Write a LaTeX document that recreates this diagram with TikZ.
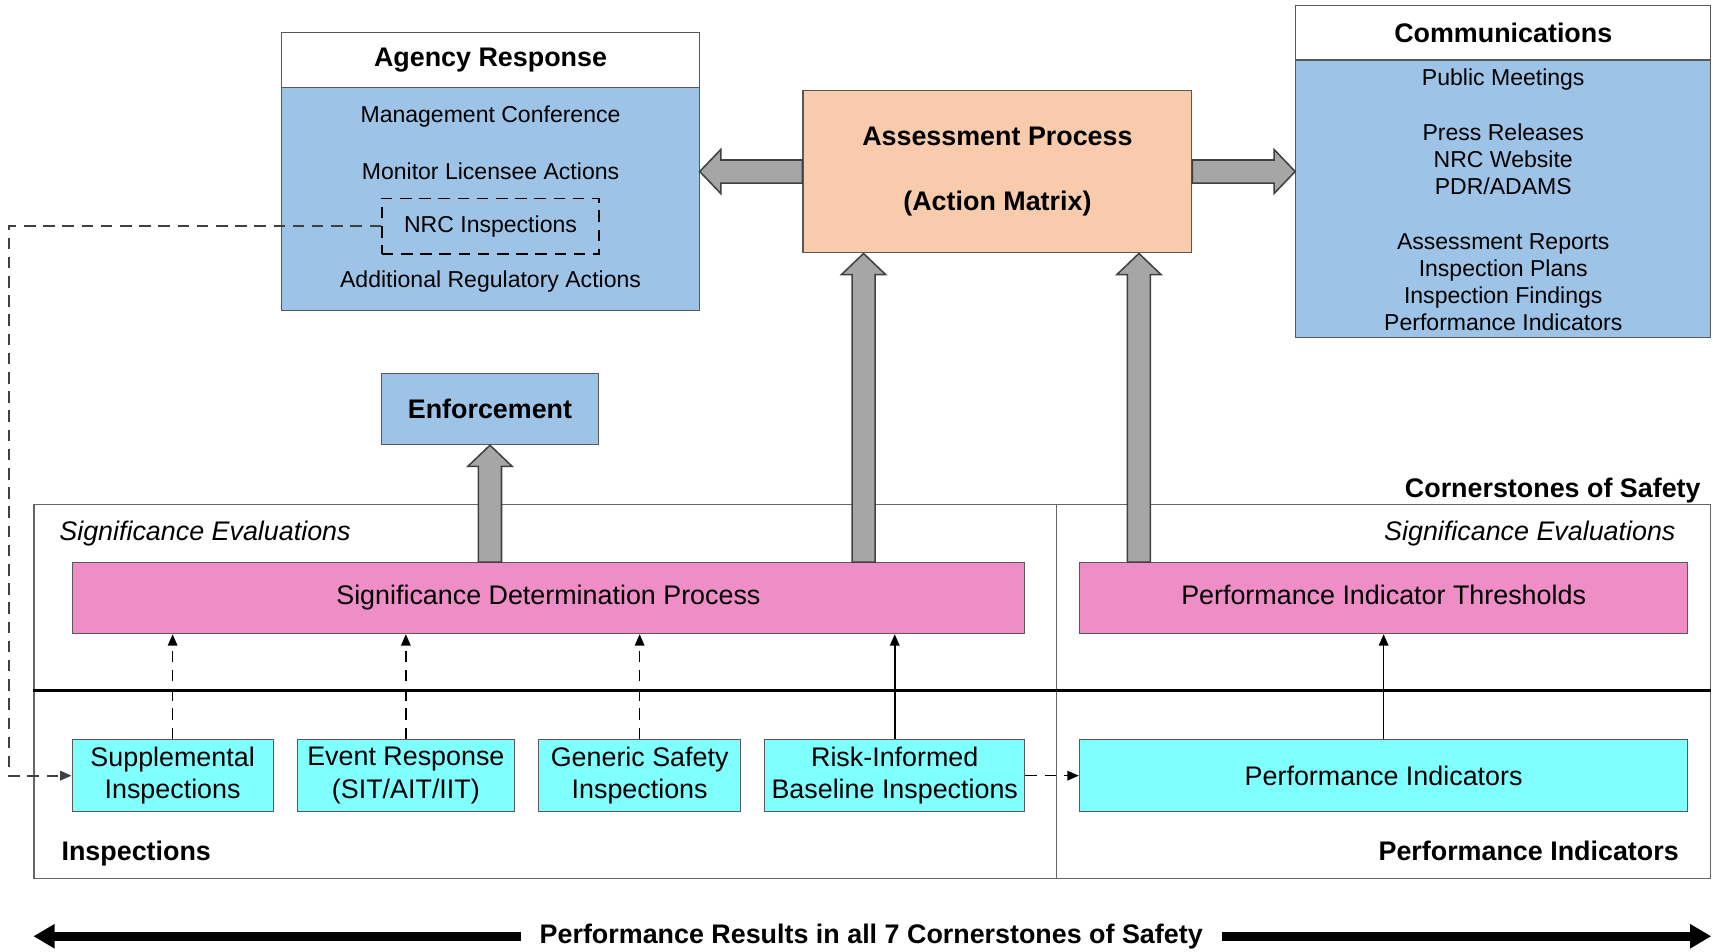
\documentclass[tikz,border=0pt]{standalone}
\usepackage{fontspec}
\setmainfont{Liberation Sans}
\usepackage{tikz}
\usetikzlibrary{arrows.meta,calc,positioning}

\definecolor{boxblue}{HTML}{9DC3E6}
\definecolor{peach}{HTML}{F8CBAD}
\definecolor{sdppink}{HTML}{EF8DC6}
\definecolor{aqua}{HTML}{80FFFF}
\definecolor{fatgray}{HTML}{A6A6A6}

% wide grey arrow between two points
\newcommand{\fatarrow}[2]{%
  \coordinate (fa) at ($(#2)!11pt!(#1)$);
  \path[draw=black!75, fill=fatgray, line width=0.8pt] ($(#1)!6pt!90:(#2)$) -- ($(fa)!6pt!-90:(#1)$) -- ($(fa)!11.5pt!-90:(#1)$) -- (#2) -- ($(fa)!11.5pt!90:(#1)$) -- ($(fa)!6pt!90:(#1)$) -- ($(#1)!6pt!-90:(#2)$) -- cycle;}

\begin{document}
\begin{tikzpicture}[x=0.02cm, y=-0.02cm]
	\tikzstyle{every node} = [font=\fontsize{12}{14.2}\selectfont]
	\tikzstyle{box} = [draw=black!65, line width=0.6pt, inner sep=0pt, align=center]
	\tikzstyle{title} = [font=\fontsize{14}{17}\selectfont\bfseries]
	\tikzstyle{big} = [font=\fontsize{14}{17}\selectfont]
	\tikzstyle{link} = [-{Triangle[length=6pt,width=5pt]}, line width=0.8pt]
	\tikzstyle{dashedlink} = [dash pattern=on 6pt off 4pt]

\useasboundingbox (0,0) rectangle (1568,871);

% top row
\node[box, fill=boxblue, minimum width=7.64cm, minimum height=5.08cm] (agency) at (449,157) {};
\node[box, fill=white, minimum width=7.64cm, minimum height=1cm, title] (agencyhd) at (449,55) {Agency Response};
\node (mgmt) at (449,107) {Management Conference};
\node (monitor) at (449,157) {Monitor Licensee Actions};
\node[draw=black, line width=0.8pt, dashedlink, minimum width=3.98cm, minimum height=1.02cm] (nrc) at (449,207) {NRC Inspections};
\node (addl) at (449,258) {Additional Regulatory Actions};

\node[box, fill=peach, minimum width=7.12cm, minimum height=2.98cm, font=\fontsize{14}{33.6}\selectfont\bfseries] (assess) at (913,157) {Assessment Process\\(Action Matrix)};

\node[box, fill=boxblue, minimum width=7.6cm, minimum height=6.08cm] (comm) at (1376,157) {};
\node[box, fill=white, minimum width=7.6cm, minimum height=1cm, title] (commhd) at (1376,30) {Communications};
\node[align=center] (commlist) at (1376,183) {Public Meetings\\[14.2pt]Press Releases\\NRC Website\\PDR/ADAMS\\[14.2pt]Assessment Reports\\Inspection Plans\\Inspection Findings\\Performance Indicators};

\node[box, fill=boxblue, minimum width=3.98cm, minimum height=1.3cm, title] (enf) at (448.5,374.5) {Enforcement};

% cornerstones frame
\node[draw=black!60, line width=0.6pt, minimum width=30.7cm, minimum height=6.84cm] (frame) at (798.5,633) {};
	\path[draw=black!60, line width=0.6pt] (frame.north -| 967,0) -- (frame.south -| 967,0);
	\path[draw=black, line width=1.2pt] (frame.west |- 0,632) -- (frame.east |- 0,632);

\node[anchor=east, inner sep=0pt, title] (corner) at (1557,449) {Cornerstones of Safety};
\node[anchor=west, inner sep=0pt, big, font=\fontsize{14}{17}\selectfont\itshape] (evall) at (54,488) {Significance Evaluations};
\node[anchor=east, inner sep=0pt, big, font=\fontsize{14}{17}\selectfont\itshape] (evalr) at (1534,488) {Significance Evaluations};
\node[anchor=west, inner sep=0pt, title] (insplbl) at (56,781) {Inspections};
\node[anchor=east, inner sep=0pt, title] (pilbl) at (1537,779) {Performance Indicators};

\node[box, fill=sdppink, minimum width=17.44cm, minimum height=1.3cm, big, text height=10pt, text depth=3pt] (sdp) at (502,547.5) {Significance Determination Process};
\node[box, fill=sdppink, minimum width=11.14cm, minimum height=1.3cm, big, text height=10pt, text depth=3pt] (pit) at (1266.5,547.5) {Performance Indicator Thresholds};

\node[box, fill=aqua, minimum width=3.68cm, minimum height=1.32cm, big] (supp) at (158,710) {Supplemental\\Inspections};
\node[box, fill=aqua, minimum width=3.98cm, minimum height=1.32cm, big] (event) at (371.5,710) {Event Response\\(SIT/AIT/IIT)};
\node[box, fill=aqua, minimum width=3.7cm, minimum height=1.32cm, big] (generic) at (585.5,710) {Generic Safety\\Inspections};
\node[box, fill=aqua, minimum width=4.76cm, minimum height=1.32cm, big] (risk) at (819,710) {Risk-Informed\\Baseline Inspections};
\node[box, fill=aqua, minimum width=11.14cm, minimum height=1.32cm, big] (pind) at (1266.5,710) {Performance Indicators};

% wide arrows
\fatarrow{assess.west}{agency.east}
\fatarrow{assess.east}{comm.west}
\coordinate (e0) at (enf.south |- sdp.north);
\fatarrow{e0}{enf.south}
\coordinate (a0) at ($(sdp.north east)+(-148,0)$);
\coordinate (a1) at (a0 |- assess.south);
\fatarrow{a0}{a1}
\coordinate (b0) at ($(pit.north west)+(55,0)$);
\coordinate (b1) at (b0 |- assess.south);
\fatarrow{b0}{b1}

% thin arrows
	\path[draw, link, dashedlink] (supp.north) -- (supp.north |- sdp.south);
	\path[draw, link, dashedlink] (event.north) -- (event.north |- sdp.south);
	\path[draw, link, dashedlink] (generic.north) -- (generic.north |- sdp.south);
	\path[draw, link] (risk.north) -- (risk.north |- sdp.south);
	\path[draw, link] (pind.north) -- (pit.south);
	\path[draw, link, dashedlink] (risk.east) -- (pind.west);
\coordinate (edge) at (nrc.west -| 8,0);
	\path[draw=black!75, link, dashedlink, line width=1pt] (nrc.west) -- (edge) |- (supp.west);

% bottom arrow
\node[title, inner xsep=0.34cm] (perf) at (797.5,857) {Performance Results in all 7 Cornerstones of Safety};
\coordinate (pl) at (perf.west -| frame.west);
\coordinate (pr) at (perf.east -| frame.east);
	\path[draw, line width=4.8pt, -{Triangle[length=11pt,width=12pt]}] (perf.west) -- (pl);
	\path[draw, line width=4.8pt, -{Triangle[length=11pt,width=12pt]}] (perf.east) -- (pr);
\end{tikzpicture}
\end{document}
